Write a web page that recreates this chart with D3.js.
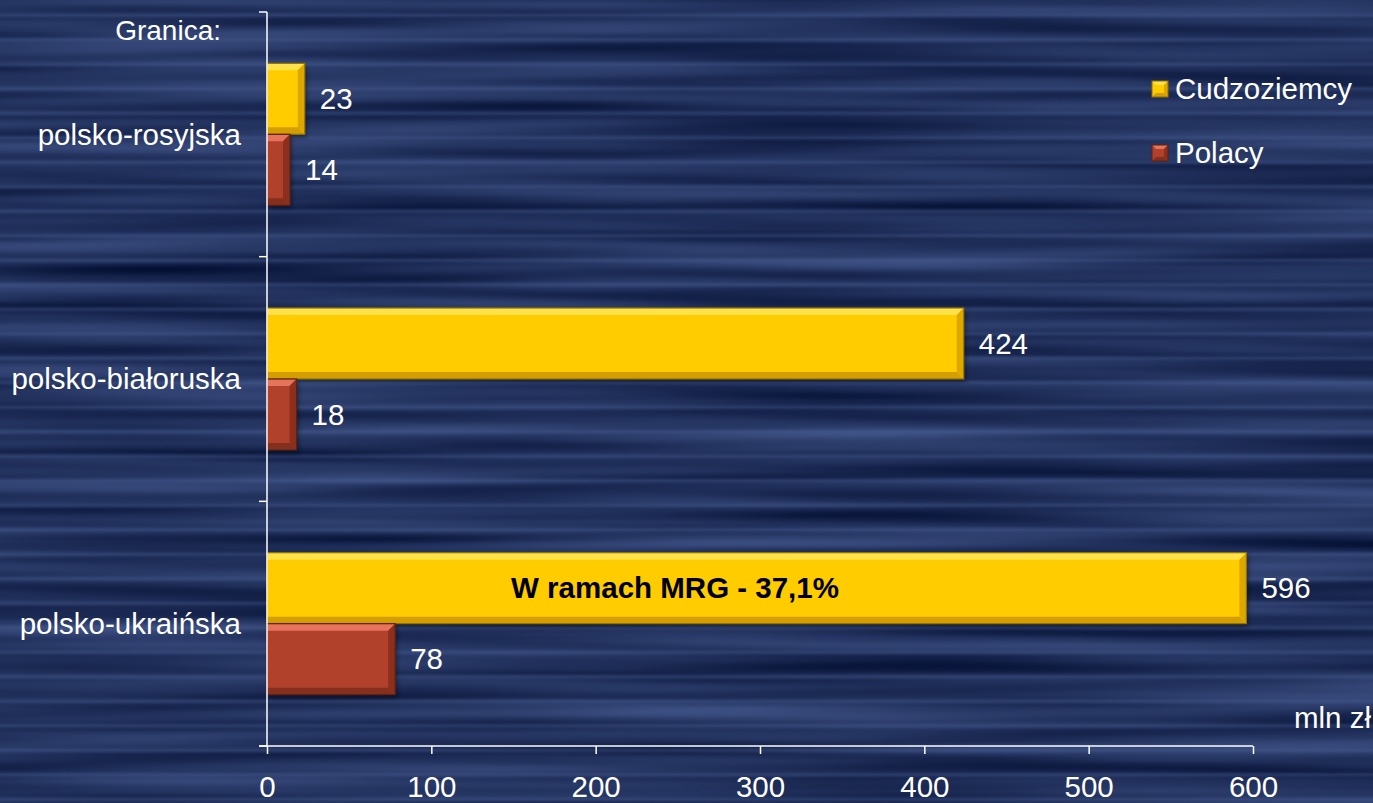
<!DOCTYPE html>
<html><head><meta charset="utf-8">
<script src="https://cdn.jsdelivr.net/npm/d3@7"></script>
<style>html,body{margin:0;padding:0;background:#17285a;overflow:hidden}svg{display:block}</style>
</head><body>
<script>
const categories = ["polsko-rosyjska", "polsko-białoruska", "polsko-ukraińska"];
const seriesNames = ["Cudzoziemcy", "Polacy"];
const cudzoziemcy = [23, 424, 596];
const polacy = [14, 18, 78];
const xTicks = [0, 100, 200, 300, 400, 500, 600];

const W = 1373, H = 803;
const FONT = "'Liberation Sans', Arial, sans-serif";
const FS = 29.5;
const svg = d3.select("body").append("svg").attr("width", W).attr("height", H);
const defs = svg.append("defs");

// background texture
const f = defs.append("filter").attr("id", "bg").attr("filterUnits", "userSpaceOnUse")
  .attr("color-interpolation-filters", "sRGB")
  .attr("x", 0).attr("y", 0).attr("width", W).attr("height", H);
f.append("feTurbulence").attr("type", "fractalNoise").attr("baseFrequency", "0.0018 0.05")
  .attr("numOctaves", 2).attr("seed", 7).attr("result", "n");
f.append("feColorMatrix").attr("type", "matrix").attr("values",
  "0.30 0 0 0 -0.02  0.34 0 0 0 0.02  0.42 0 0 0 0.15  0 0 0 0 1");
svg.append("rect").attr("width", W).attr("height", H).attr("fill", "#17285a");
svg.append("rect").attr("width", W).attr("height", H).attr("filter", "url(#bg)");

// regular faint stripes
const lg = defs.append("linearGradient").attr("id", "stripeG").attr("x1", 0).attr("x2", 0).attr("y1", 0).attr("y2", 1);
[[0, 0], [0.35, 0], [0.5, 0.55], [0.65, 0], [1, 0]].forEach(([o, a]) =>
  lg.append("stop").attr("offset", o).attr("stop-color", "#4a6095").attr("stop-opacity", a));
const pat = defs.append("pattern").attr("id", "stripes").attr("patternUnits", "userSpaceOnUse")
  .attr("x", 0).attr("y", 3).attr("width", W).attr("height", 24.5);
pat.append("rect").attr("width", W).attr("height", 24.5).attr("fill", "url(#stripeG)");
svg.append("rect").attr("width", W).attr("height", H).attr("fill", "url(#stripes)").attr("opacity", 0.7);

const sh = defs.append("filter").attr("id", "sh").attr("x", "-10%").attr("y", "-10%").attr("width", "130%").attr("height", "130%");
sh.append("feGaussianBlur").attr("stdDeviation", 2);

const x = d3.scaleLinear().domain([0, 600]).range([267, 1253]);
const y = d3.scaleBand().domain(categories).range([12, 746]);
const yi = d3.scaleBand().domain(seriesNames).range([0, y.bandwidth()]).paddingOuter(0.723).paddingInner(0);

const styles = {
  "Cudzoziemcy": {main: "#FFCC00", top: "#FFE24A", side: "#DDA700", bottom: "#D49E00", stroke: "#8F7100"},
  "Polacy": {main: "#B1412B", top: "#E6735C", side: "#8C2F1D", bottom: "#85301F", stroke: "#60200F"}
};

const data = [];
categories.forEach((c, i) => {
  data.push({cat: c, s: "Cudzoziemcy", v: cudzoziemcy[i]});
  data.push({cat: c, s: "Polacy", v: polacy[i]});
});

const bars = svg.append("g");
data.forEach(d => {
  const x0 = x(0), x1 = x(d.v);
  const y0 = y(d.cat) + yi(d.s), y1 = y0 + yi.bandwidth();
  const st = styles[d.s];
  const b = Math.min(7, (x1 - x0) / 2);
  const g = bars.append("g");
  g.append("rect").attr("x", x0 + 2).attr("y", y0 + 3).attr("width", x1 - x0).attr("height", y1 - y0)
    .attr("fill", "#000").attr("opacity", 0.4).attr("filter", "url(#sh)");
  g.append("rect").attr("x", x0).attr("y", y0).attr("width", x1 - x0).attr("height", y1 - y0).attr("fill", st.main);
  g.append("polygon").attr("points", [[x0, y0], [x1, y0], [x1 - b, y0 + b], [x0, y0 + b]].join(" ")).attr("fill", st.top);
  g.append("polygon").attr("points", [[x1, y0], [x1, y1], [x1 - b, y1 - b], [x1 - b, y0 + b]].join(" ")).attr("fill", st.side);
  g.append("polygon").attr("points", [[x0, y1], [x1, y1], [x1 - b, y1 - b], [x0, y1 - b]].join(" ")).attr("fill", st.bottom);
  g.append("rect").attr("x", x0).attr("y", y0).attr("width", x1 - x0).attr("height", y1 - y0)
    .attr("fill", "none").attr("stroke", st.stroke).attr("stroke-width", 1.2);
  svg.append("text").attr("x", x1 + 15).attr("y", (y0 + y1) / 2).attr("dy", "0.35em")
    .attr("fill", "#fff").attr("font-family", FONT).attr("font-size", FS).text(d.v);
});

// axes
const axisColor = "#ffffff";
const gx = svg.append("g").attr("transform", `translate(0,${y.range()[1]})`)
  .call(d3.axisBottom(x).tickValues(xTicks).tickSize(8).tickSizeOuter(0).tickPadding(22));
gx.select(".domain").remove();
gx.selectAll("line").attr("stroke", axisColor).attr("stroke-width", 1.5);
gx.selectAll("text").attr("fill", "#fff").attr("font-family", FONT).attr("font-size", FS);
svg.append("line").attr("x1", 259).attr("x2", x(600)).attr("y1", y.range()[1]).attr("y2", y.range()[1])
  .attr("stroke", axisColor).attr("stroke-width", 1.5);
svg.append("line").attr("x1", x(0)).attr("x2", x(0)).attr("y1", y.range()[0]).attr("y2", y.range()[1])
  .attr("stroke", axisColor).attr("stroke-width", 1.5);
const bounds = categories.map(c => y(c)).concat([y.range()[1]]);
svg.append("g").selectAll("line").data(bounds).join("line")
  .attr("x1", 259).attr("x2", x(0)).attr("y1", d => d).attr("y2", d => d)
  .attr("stroke", axisColor).attr("stroke-width", 1.5);

// category labels
svg.append("g").selectAll("text").data(categories).join("text")
  .attr("x", 241).attr("y", d => y(d) + y.bandwidth() / 2).attr("dy", "0.35em")
  .attr("text-anchor", "end").attr("fill", "#fff").attr("font-family", FONT).attr("font-size", FS).text(d => d);

svg.append("text").attr("x", 221).attr("y", 30).attr("dy", "0.35em").attr("text-anchor", "end")
  .attr("fill", "#fff").attr("font-family", FONT).attr("font-size", 28).text("Granica:");

svg.append("text").attr("x", 1371).attr("y", 718).attr("dy", "0.35em").attr("text-anchor", "end")
  .attr("fill", "#fff").attr("font-family", FONT).attr("font-size", FS).text("mln zł");

// annotation
svg.append("text").attr("x", 675).attr("y", y(categories[2]) + yi("Cudzoziemcy") + yi.bandwidth() / 2).attr("dy", "0.35em")
  .attr("text-anchor", "middle").attr("fill", "#000").attr("font-weight", "bold")
  .attr("font-family", FONT).attr("font-size", FS).text("W ramach MRG - 37,1%");

// legend
const leg = svg.append("g").selectAll("g").data(seriesNames).join("g")
  .attr("transform", (d, i) => `translate(1152,${81 + i * 64})`);
leg.each(function(d) {
  const g = d3.select(this), st = styles[d], s = 16, b = 4;
  g.append("rect").attr("width", s).attr("height", s).attr("fill", st.main);
  g.append("polygon").attr("points", [[0, 0], [s, 0], [s - b, b], [b, b]].join(" ")).attr("fill", st.top);
  g.append("polygon").attr("points", [[s, 0], [s, s], [s - b, s - b], [s - b, b]].join(" ")).attr("fill", st.side);
  g.append("polygon").attr("points", [[0, s], [s, s], [s - b, s - b], [b, s - b]].join(" ")).attr("fill", st.bottom);
  g.append("rect").attr("width", s).attr("height", s).attr("fill", "none").attr("stroke", st.stroke).attr("stroke-width", 1);
  g.append("text").attr("x", 23).attr("y", s / 2).attr("dy", "0.35em").attr("fill", "#fff")
    .attr("font-family", FONT).attr("font-size", FS).text(d);
});
</script>
</body></html>
